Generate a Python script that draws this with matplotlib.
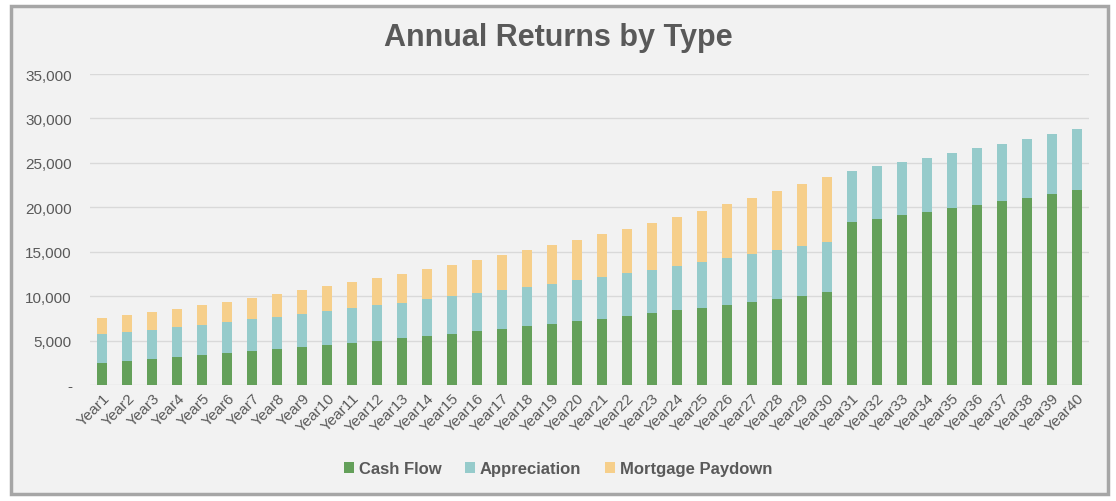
import matplotlib.pyplot as plt
from matplotlib.patches import Rectangle
from matplotlib.ticker import FuncFormatter

plt.rcParams['font.family'] = ['Liberation Sans', 'DejaVu Sans']

years = ['Year%d' % i for i in range(1, 41)]

# stacked values
cash_flow = [2475, 2700, 2925, 3150, 3375, 3600, 3825, 4050, 4275, 4500,
             4725, 4950, 5287, 5512, 5737, 6075, 6300, 6637, 6862, 7200,
             7425, 7762, 8100, 8437, 8662, 9000, 9337, 9675, 10012, 10462,
             18337, 18675, 19125, 19462, 19912, 20250, 20700, 21037, 21487, 21937]
appreciation = [3262, 3262, 3262, 3375, 3375, 3487, 3600, 3600, 3712, 3825,
                3937, 4050, 3938, 4163, 4275, 4275, 4387, 4388, 4500, 4612,
                4725, 4838, 4837, 4950, 5175, 5287, 5400, 5512, 5625, 5625,
                5738, 5962, 5962, 6075, 6188, 6412, 6412, 6638, 6750, 6863]
mortgage_paydown = [1800, 1913, 2025, 2025, 2250, 2250, 2362, 2587, 2700, 2812,
                    2925, 3037, 3262, 3375, 3488, 3712, 3938, 4162, 4388, 4500,
                    4837, 4950, 5288, 5513, 5738, 6075, 6300, 6638, 6975, 7313,
                    0, 0, 0, 0, 0, 0, 0, 0, 0, 0]

green = '#64a05a'
teal = '#96cbcb'
orange = '#f6cf8b'
text_gray = '#595959'

fig = plt.figure(figsize=(11.16, 5.02), dpi=100, facecolor='white')
fig.patches.append(Rectangle((11 / 1116, 1 - 495 / 502), 1097 / 1116, 488 / 502,
                             transform=fig.transFigure, facecolor='#f2f2f2',
                             edgecolor='#a6a6a6', linewidth=2.5, zorder=-10))

ax = fig.add_axes([90 / 1116, 1 - 386 / 502, 999 / 1116, 311 / 502])
ax.set_facecolor('none')

x = range(len(years))
bottom2 = [c + a for c, a in zip(cash_flow, appreciation)]
ax.bar(x, cash_flow, width=0.4, color=green, label='Cash Flow', zorder=3)
ax.bar(x, appreciation, width=0.4, bottom=cash_flow, color=teal, label='Appreciation', zorder=3)
ax.bar(x, mortgage_paydown, width=0.4, bottom=bottom2, color=orange, label='Mortgage Paydown', zorder=3)

ax.set_xlim(-0.5, len(years) - 0.5)
ax.set_ylim(0, 35000)
ax.set_yticks(range(0, 35001, 5000))
ax.yaxis.set_major_formatter(FuncFormatter(lambda v, p: '-' if v == 0 else '{:,.0f}'.format(v)))
ax.grid(axis='y', color='#d9d9d9', linewidth=1, zorder=0)
for s in ax.spines.values():
    s.set_visible(False)
ax.tick_params(axis='both', length=0, colors=text_gray, labelsize=11)
ax.tick_params(axis='y', pad=13)
ax.set_xticks(list(x))
ax.set_xticklabels(years, rotation=45, ha='right', rotation_mode='anchor')
ax.tick_params(axis='x', pad=4)

fig.text(0.5, 1 - 38 / 502, 'Annual Returns by Type', ha='center', va='center',
         fontsize=22, fontweight='bold', color=text_gray)

leg = ax.legend(loc='center', bbox_to_anchor=(0.5, 1 - 470 / 502), bbox_transform=fig.transFigure,
                ncol=3, frameon=False, handlelength=0.6, handleheight=0.6, handletextpad=0.3,
                columnspacing=1.4, prop={'size': 12, 'weight': 'bold'})
for t in leg.get_texts():
    t.set_color(text_gray)

fig.savefig('out.png', dpi=100, facecolor='white')
